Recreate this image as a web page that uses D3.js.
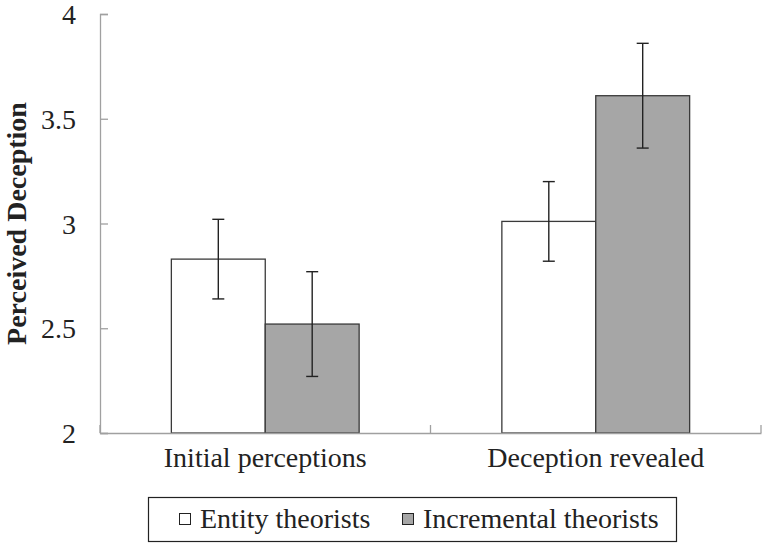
<!DOCTYPE html>
<html>
<head>
<meta charset="utf-8">
<script src="https://cdn.jsdelivr.net/npm/d3@7"></script>
<style>
  html, body { margin: 0; padding: 0; background: #fff; }
  svg { display: block; }
  svg text { font-family: "Liberation Serif", "DejaVu Serif", "Noto Serif", serif !important; fill: #222; }
</style>
</head>
<body>
<svg id="chart" width="762" height="544"></svg>
<script>
const categories = ["Initial perceptions", "Deception revealed"];
const series = ["Entity theorists", "Incremental theorists"];
const entityValues = [2.83, 3.01];
const incrementalValues = [2.52, 3.61];
const entityErrLow = [2.64, 2.82];
const entityErrHigh = [3.02, 3.20];
const incrementalErrLow = [2.27, 3.36];
const incrementalErrHigh = [2.77, 3.86];
const yTickValues = [2, 2.5, 3, 3.5, 4];
const yTickLabels = ["2", "2.5", "3", "3.5", "4"];
const seriesColors = ["#ffffff", "#a6a6a6"];
const yTitle = "Perceived Deception";

const rows = [];
categories.forEach((c, i) => {
  rows.push({cat: c, s: series[0], v: entityValues[i], lo: entityErrLow[i], hi: entityErrHigh[i], color: seriesColors[0]});
  rows.push({cat: c, s: series[1], v: incrementalValues[i], lo: incrementalErrLow[i], hi: incrementalErrHigh[i], color: seriesColors[1]});
});

const svg = d3.select("#chart");
const mLeft = 100, mRight = 761, mTop = 14, mBottom = 433;

const x0 = d3.scaleBand().domain(categories).range([mLeft, mRight]).padding(0);
const x1 = d3.scaleBand().domain(series).range([0, x0.bandwidth()]).paddingInner(0).paddingOuter(0.76);
const y = d3.scaleLinear().domain([2, 4]).range([mBottom, mTop]);

const FS = 28;

// bars
svg.append("g").selectAll("rect").data(rows).join("rect")
  .attr("x", d => x0(d.cat) + x1(d.s))
  .attr("y", d => y(d.v))
  .attr("width", x1.bandwidth())
  .attr("height", d => y(2) - y(d.v))
  .attr("fill", d => d.color)
  .attr("stroke", "#3a3a3a")
  .attr("stroke-width", 1.3);

// y axis
const yAxis = d3.axisLeft(y).tickValues(yTickValues)
  .tickFormat((d, i) => yTickLabels[i]).tickSize(-8).tickPadding(24);
const gy = svg.append("g").attr("transform", `translate(${mLeft},0)`).call(yAxis);
gy.attr("font-family", null);
gy.select(".domain").attr("stroke", "#a0a0a0").attr("stroke-width", 1.3);
gy.selectAll(".tick line").attr("stroke", "#a0a0a0").attr("stroke-width", 1.3);
gy.selectAll(".tick text").attr("font-size", FS).attr("fill", "#222").attr("dy", "0.34em");

// x axis
const xAxis = d3.axisBottom(x0).tickSize(0).tickPadding(14);
const gx = svg.append("g").attr("transform", `translate(0,${mBottom})`).call(xAxis);
gx.attr("font-family", null);
gx.select(".domain").attr("stroke", "#a0a0a0").attr("stroke-width", 1.3);
gx.selectAll(".tick text").attr("font-size", FS).attr("fill", "#222");
// band boundary ticks
const boundaries = categories.map(c => x0(c)).concat([x0.range()[1]]);
gx.selectAll("line.bt").data(boundaries).join("line").attr("class", "bt")
  .attr("x1", d => d).attr("x2", d => d).attr("y1", 0).attr("y2", -8)
  .attr("stroke", "#a0a0a0").attr("stroke-width", 1.3);

// error bars
const eb = svg.append("g");
rows.forEach(d => {
  const cx = x0(d.cat) + x1(d.s) + x1.bandwidth() / 2;
  eb.append("line").attr("x1", cx).attr("x2", cx).attr("y1", y(d.lo)).attr("y2", y(d.hi))
    .attr("stroke", "#222").attr("stroke-width", 1.4);
  [d.lo, d.hi].forEach(v => {
    eb.append("line").attr("x1", cx - 6).attr("x2", cx + 6).attr("y1", y(v)).attr("y2", y(v))
      .attr("stroke", "#222").attr("stroke-width", 1.4);
  });
});

// y title
svg.append("text")
  .attr("transform", `translate(26,${(mTop + mBottom) / 2}) rotate(-90)`)
  .attr("text-anchor", "middle")
  .attr("font-size", 28).attr("font-weight", "bold")
  .text(yTitle);

// legend
const lg = svg.append("g");
lg.append("rect").attr("x", 148.5).attr("y", 497.5).attr("width", 528).attr("height", 44)
  .attr("fill", "none").attr("stroke", "#222").attr("stroke-width", 1.2);
const legX = [179, 402];
series.forEach((s, i) => {
  lg.append("rect").attr("x", legX[i] + 0.5).attr("y", 513.5).attr("width", 11).attr("height", 11)
    .attr("fill", seriesColors[i]).attr("stroke", "#222").attr("stroke-width", 1);
  lg.append("text").attr("x", legX[i] + 21).attr("y", 528).attr("font-size", FS).text(s);
});
</script>
</body>
</html>
